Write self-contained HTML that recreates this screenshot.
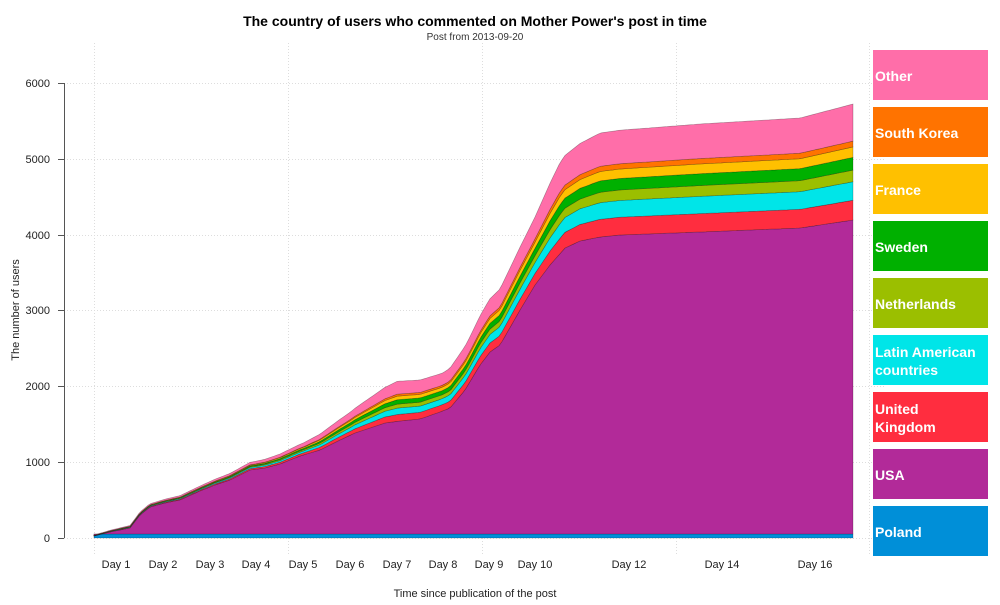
<!DOCTYPE html>
<html><head><meta charset="utf-8"><style>
body{margin:0;background:#fff;width:1000px;height:600px;overflow:hidden;font-family:"Liberation Sans",sans-serif}
</style></head><body>
<svg id="s" width="1000" height="600" xmlns="http://www.w3.org/2000/svg" font-family="Liberation Sans, sans-serif">
<g stroke="#ddd" stroke-dasharray="1,2" stroke-width="1">
<line x1="94.5" y1="43" x2="94.5" y2="556"/><line x1="288.5" y1="43" x2="288.5" y2="556"/>
<line x1="482.5" y1="43" x2="482.5" y2="556"/><line x1="676.5" y1="43" x2="676.5" y2="556"/>
<line x1="869.5" y1="43" x2="869.5" y2="556"/>
<line x1="64" y1="83.5" x2="885" y2="83.5"/><line x1="64" y1="159.5" x2="885" y2="159.5"/>
<line x1="64" y1="235.5" x2="885" y2="235.5"/><line x1="64" y1="310.5" x2="885" y2="310.5"/>
<line x1="64" y1="386.5" x2="885" y2="386.5"/><line x1="64" y1="462.5" x2="885" y2="462.5"/>
<line x1="64" y1="538.5" x2="885" y2="538.5"/>
</g>
<g id="areas"></g>
<g stroke="#555" stroke-width="1">
<line x1="64.5" y1="83" x2="64.5" y2="538"/>
<line x1="58" y1="83.5" x2="64" y2="83.5"/><line x1="58" y1="159.5" x2="64" y2="159.5"/>
<line x1="58" y1="235.5" x2="64" y2="235.5"/><line x1="58" y1="310.5" x2="64" y2="310.5"/>
<line x1="58" y1="386.5" x2="64" y2="386.5"/><line x1="58" y1="462.5" x2="64" y2="462.5"/>
<line x1="58" y1="538.5" x2="64" y2="538.5"/>
</g>
<g font-size="11" fill="#222" text-anchor="end">
<text x="50" y="87">6000</text><text x="50" y="163">5000</text><text x="50" y="239">4000</text>
<text x="50" y="314">3000</text><text x="50" y="390">2000</text><text x="50" y="466">1000</text><text x="50" y="542">0</text>
</g>
<g font-size="11" fill="#222" text-anchor="middle">
<text x="116" y="568">Day 1</text><text x="163" y="568">Day 2</text><text x="210" y="568">Day 3</text>
<text x="256" y="568">Day 4</text><text x="303" y="568">Day 5</text><text x="350" y="568">Day 6</text>
<text x="397" y="568">Day 7</text><text x="443" y="568">Day 8</text><text x="489" y="568">Day 9</text>
<text x="535" y="568">Day 10</text><text x="629" y="568">Day 12</text><text x="722" y="568">Day 14</text>
<text x="815" y="568">Day 16</text>
<text x="475" y="597">Time since publication of the post</text>
<text x="475" y="26" font-size="14" font-weight="bold" fill="#000">The country of users who commented on Mother Power's post in time</text>
<text x="475" y="40" font-size="10" fill="#333">Post from 2013-09-20</text>
<text transform="translate(19,310) rotate(-90)">The number of users</text>
</g>
<g id="leg" font-size="14" font-weight="bold" fill="#fff"></g>
</svg>
<script>
var usa=[[94,536],[110,532],[130,528],[140,515],[150,507],[165,503],[180,500],[200,491],[215,485],[230,480],[250,470],[265,468],[280,464],[300,456],[320,450],[340,440],[355,433],[370,428],[385,423],[400,421],[420,419],[440,412],[450,408],[465,390],[480,365],[490,352],[500,345],[520,310],[535,285],[550,265],[565,248],[580,241],[600,237],[620,235],[700,232],[800,228],[820,225],[853,220]];
var spr=[[94,1],[140,3],[200,5],[256,8],[303,12],[350,23],[397,40],[443,38],[470,45],[489,53],[500,56],[535,68],[560,91],[600,104],[700,108],[800,110],[853,116]];
function interp(a,x){for(var i=1;i<a.length;i++){if(x<=a[i][0]){var t=(x-a[i-1][0])/(a[i][0]-a[i-1][0]);return a[i-1][1]+t*(a[i][1]-a[i-1][1]);}}return a[a.length-1][1];}
var xs=[];for(var x=94;x<=853;x+=3)xs.push(x);if(xs[xs.length-1]!=853)xs.push(853);
var fr=[0,.17,.33,.43,.54,.63,.68,1];
var cols=["#b22a99","#ff2d3f","#00e5e8","#9bbf00","#00b000","#ffc000","#ff7300","#ff6ea9"];
function bound(k){return xs.map(function(x){if(k<0)return 534;var u=interp(usa,x),s=interp(spr,x);return u-s*fr[k];});}
var g=document.getElementById('areas'),h='';
var layers=[[538,bound(-1),"#008fd8"]];
var prev=bound(-1);
for(var k=0;k<8;k++){var b=bound(k);layers.push([prev,b,cols[k]]);prev=b;}
layers.forEach(function(L){var lo=L[0],hi=L[1];var d='M'+xs.map(function(x,i){return x+','+hi[i].toFixed(1)}).join('L');
for(var i=xs.length-1;i>=0;i--){d+='L'+xs[i]+','+(typeof lo=='number'?lo:lo[i].toFixed(1));}
h+='<path d="'+d+'Z" fill="'+L[2]+'" stroke="rgba(0,0,0,0.35)" stroke-width="0.6"/>';});
g.innerHTML=h;
var leg=[["Other","#ff6ea9"],["South Korea","#ff7300"],["France","#ffc000"],["Sweden","#00b000"],["Netherlands","#9bbf00"],["Latin American|countries","#00e5e8"],["United|Kingdom","#ff2d3f"],["USA","#b22a99"],["Poland","#008fd8"]];
var s='';leg.forEach(function(l,i){var y=50+i*57;s+='<rect x="873" y="'+y+'" width="115" height="50" fill="'+l[1]+'"/>';var p=l[0].split('|');
if(p.length==1)s+='<text x="875" y="'+(y+31)+'">'+p[0]+'</text>';else s+='<text x="875" y="'+(y+22)+'">'+p[0]+'</text><text x="875" y="'+(y+40)+'">'+p[1]+'</text>';});
document.getElementById('leg').innerHTML=s;
</script>
</body></html>
